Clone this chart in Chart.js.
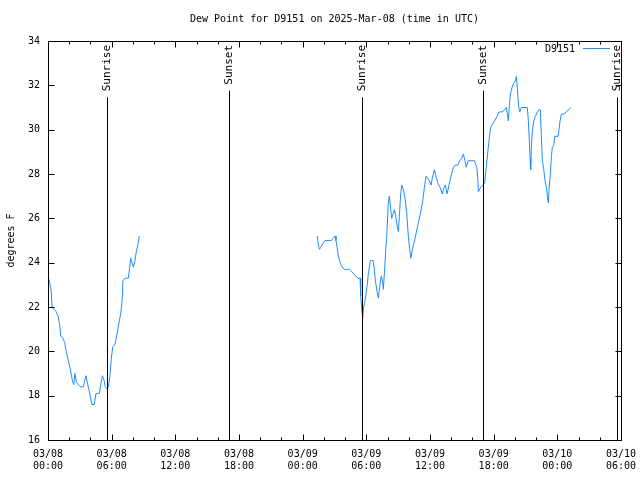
<!DOCTYPE html>
<html>
<head>
<meta charset="utf-8">
<title>Dew Point for D9151</title>
<script src="https://cdn.jsdelivr.net/npm/chart.js@4/dist/chart.umd.min.js"></script>
<style>
	body{margin:0;background:#fff;}
	canvas{display:block;}
</style>
</head>
<body>
<canvas id="chart" width="640" height="480"></canvas>
<script>
// hours since 03/08 00:00 UTC, dew point in F
const time1 = [0.00,0.16,0.31,0.38,0.57,0.75,0.94,1.10,1.20,1.39,
	1.57,1.72,1.91,2.10,2.29,2.42,2.54,2.67,2.86,3.04,
	3.33,3.42,3.58,3.70,3.89,4.05,4.12,4.36,4.52,4.84,
	4.97,5.12,5.28,5.40,5.56,5.68,5.82,5.97,6.10,6.31,
	6.47,6.66,6.85,6.97,7.07,7.26,7.57,7.70,7.79,7.92,
	8.04,8.20,8.32,8.51,8.60];
const dew1 = [23.4,23.1,22.7,22.0,21.9,21.8,21.6,21.2,20.7,20.6,
	20.4,20.0,19.6,19.2,18.7,18.5,19.0,18.6,18.5,18.4,
	18.4,18.6,18.9,18.6,18.2,17.8,17.6,17.6,18.1,18.1,
	18.5,18.9,18.7,18.4,18.3,18.4,18.8,19.7,20.2,20.3,
	20.7,21.2,21.7,22.2,23.2,23.3,23.3,23.8,24.2,24.0,
	23.8,24.1,24.5,24.9,25.2];

const time2 = [25.38,25.45,25.57,25.73,25.95,26.11,26.48,26.67,26.89,27.05,
	27.14,27.27,27.36,27.52,27.71,27.93,28.21,28.40,28.62,28.81,
	29.00,29.19,29.41,29.47,29.57,29.66,29.75,29.85,29.97,30.09,
	30.19,30.38,30.47,30.63,30.73,30.85,31.01,31.13,31.26,31.41,
	31.55,31.60,31.70,31.83,31.92,32.07,32.17,32.30,32.39,32.52,
	32.64,32.77,32.92,33.02,33.11,33.24,33.34,33.49,33.65,33.81,
	33.96,34.09,34.19,34.34,34.50,34.68,34.90,35.09,35.32,35.47,
	35.63,35.79,35.94,36.10,36.22,36.41,36.57,36.73,36.95,37.16,
	37.32,37.45,37.61,37.79,37.98,38.20,38.36,38.61,38.80,38.99,
	39.14,39.30,39.42,39.59,39.80,40.18,40.41,40.50,40.56,40.78,
	40.97,41.16,41.28,41.47,41.63,41.72,41.94,42.10,42.32,42.51,
	42.79,43.04,43.19,43.29,43.38,43.48,43.57,43.73,43.89,44.04,
	44.14,44.27,44.36,44.46,44.61,45.17,45.27,45.36,45.43,45.49,
	45.55,45.65,45.78,45.93,46.12,46.28,46.40,46.49,46.59,46.72,
	46.84,46.97,47.06,47.15,47.22,47.34,47.44,47.53,47.66,47.76,
	48.07,48.16,48.26,48.38,48.63,48.82,49.08,49.27];
const dew2 = [25.2,24.9,24.6,24.7,24.9,25.0,25.0,25.0,25.1,25.2,
	25.0,24.6,24.3,24.0,23.8,23.7,23.7,23.7,23.6,23.5,
	23.4,23.3,23.3,22.5,21.9,21.5,22.0,22.2,22.6,23.0,
	23.5,24.1,24.1,24.1,23.8,23.2,22.7,22.4,22.9,23.4,
	23.1,22.8,23.5,24.6,25.2,26.7,27.0,26.4,26.0,26.2,
	26.4,26.1,25.6,25.4,26.1,27.1,27.5,27.3,26.9,26.2,
	25.2,24.6,24.2,24.6,24.9,25.3,25.8,26.2,26.8,27.4,
	27.9,27.8,27.7,27.5,27.8,28.2,27.9,27.6,27.4,27.1,
	27.4,27.5,27.1,27.5,27.9,28.3,28.4,28.4,28.6,28.7,
	28.9,28.6,28.3,28.6,28.6,28.6,28.3,27.8,27.2,27.4,
	27.5,27.6,28.2,29.1,29.8,30.1,30.3,30.4,30.6,30.8,
	30.8,30.9,31.0,30.7,30.4,31.1,31.6,31.9,32.1,32.2,
	32.4,31.6,31.0,30.8,31.0,31.0,30.4,29.5,28.7,28.2,
	29.2,30.0,30.4,30.6,30.8,30.9,30.9,29.7,28.6,28.2,
	27.7,27.4,27.0,26.7,27.3,28.0,28.8,29.2,29.3,29.7,
	29.7,30.0,30.4,30.7,30.7,30.8,30.9,31.0];

const eventTimes = [5.57, 17.07, 29.62, 41.04, 53.67];
const eventLabels = ['Sunrise', 'Sunset', 'Sunrise', 'Sunset', 'Sunrise'];

const xTickLabels = [['03/08','00:00'], ['03/08','06:00'], ['03/08','12:00'], ['03/08','18:00'],
	['03/09','00:00'], ['03/09','06:00'], ['03/09','12:00'], ['03/09','18:00'],
	['03/10','00:00'], ['03/10','06:00']];

const stationName = 'D9151';
const titleText = 'Dew Point for D9151 on 2025-Mar-08 (time in UTC)';
const mono = "'DejaVu Sans Mono', monospace";

let points = [];
time1.forEach((t, i) =>{ points.push({x: t, y: dew1[i]}); });
points.push({x: 17, y: null});
time2.forEach((t, i) =>{ points.push({x: t, y: dew2[i]}); });

// gnuplot look: box, inside ticks, sun lines, key, title
const gnuplotFrame = {
	id: 'gnuplotFrame',
	afterDraw(chart){
		const ctx = chart.ctx;
		const a = chart.chartArea;
		const xs = chart.scales.x;
		const ys = chart.scales.y;
		const L = Math.round(a.left) + 0.5, R = Math.round(a.right) + 0.5;
		const T = Math.round(a.top) + 0.5, B = Math.round(a.bottom) + 0.5;

		ctx.save();
		ctx.strokeStyle = '#000';
		ctx.fillStyle = '#000';
		ctx.lineWidth = 1;

		ctx.beginPath();
		for (let h = 0; h <= 54; h += 2){
			const len = (h % 6 == 0) ? 6 : 3;
			const px = Math.round(xs.getPixelForValue(h)) + 0.5;
			ctx.moveTo(px, B); ctx.lineTo(px, B - len);
			ctx.moveTo(px, T); ctx.lineTo(px, T + len);
		}
		ys.ticks.forEach((tk) =>{
			const py = Math.round(ys.getPixelForValue(tk.value)) + 0.5;
			ctx.moveTo(L, py); ctx.lineTo(L + 6, py);
			ctx.moveTo(R, py); ctx.lineTo(R - 6, py);
		});
		ctx.stroke();

		ctx.font = '11px ' + mono;
		eventTimes.forEach((t, i) =>{
			const px = Math.round(xs.getPixelForValue(t)) + 0.5;
			const w = ctx.measureText(eventLabels[i]).width;
			ctx.beginPath();
			ctx.moveTo(px, a.top + 4 + w + 6);
			ctx.lineTo(px, B);
			ctx.stroke();
			ctx.save();
			ctx.translate(px, a.top + 4);
			ctx.rotate(-Math.PI / 2);
			ctx.textAlign = 'right';
			ctx.textBaseline = 'middle';
			ctx.fillText(eventLabels[i], 0, 0);
			ctx.restore();
		});

		ctx.strokeRect(L, T, R - L, B - T);

		ctx.font = '10px ' + mono;
		ctx.textAlign = 'right';
		ctx.textBaseline = 'middle';
		ctx.fillText(chart.data.datasets[0].label, a.right - 46, a.top + 8);
		ctx.strokeStyle = chart.data.datasets[0].borderColor;
		ctx.beginPath();
		ctx.moveTo(a.right - 38, T + 7);
		ctx.lineTo(a.right - 11, T + 7);
		ctx.stroke();

		ctx.textAlign = 'center';
		ctx.fillText(titleText, (a.left + a.right) / 2, 19);
		ctx.restore();
	}
};

new Chart(document.getElementById('chart'), {
	type: 'line',
	data: {
		datasets: [{
			label: stationName,
			data: points,
			borderColor: '#1e8cff',
			borderWidth: 1,
			pointRadius: 0,
			tension: 0,
			fill: false,
			spanGaps: false
		}]
	},
	options: {
		responsive: false,
		animation: false,
		layout: {padding: {top: 41, right: 19, left: 0, bottom: 0}},
		plugins: {
			legend: {display: false},
			title: {display: false},
			tooltip: {enabled: false}
		},
		scales: {
			x: {
				type: 'linear',
				min: 0,
				max: 54,
				grid: {display: false, drawTicks: false},
				border: {display: false},
				afterFit: (s) =>{ s.height = 40; s.paddingLeft = 0; s.paddingRight = 0; },
				ticks: {
					stepSize: 6,
					autoSkip: false,
					maxRotation: 0,
					padding: 8,
					color: '#000',
					font: {family: mono, size: 10, lineHeight: 1.2},
					callback: (v, i) => xTickLabels[i]
				}
			},
			y: {
				min: 16,
				max: 34,
				grid: {display: false, drawTicks: false},
				border: {display: false},
				afterFit: (s) =>{ s.width = 48; s.paddingTop = 0; s.paddingBottom = 0; },
				title: {
					display: true,
					text: 'degrees F',
					color: '#000',
					font: {family: mono, size: 10},
					padding: {top: 5, bottom: 0}
				},
				ticks: {
					stepSize: 2,
					padding: 8,
					color: '#000',
					font: {family: mono, size: 10}
				}
			}
		}
	},
	plugins: [gnuplotFrame]
});
</script>
</body>
</html>
